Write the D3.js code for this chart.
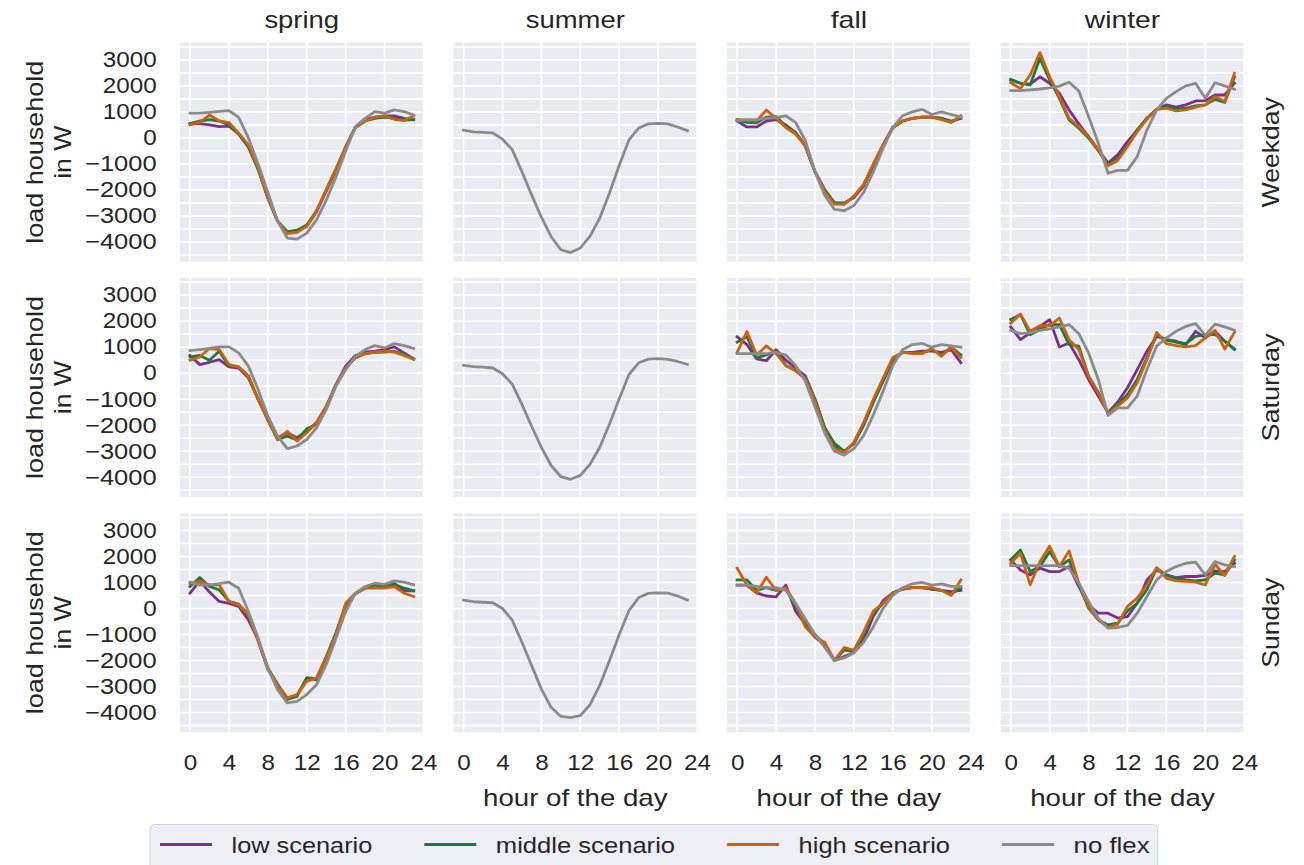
<!DOCTYPE html>
<html><head><meta charset="utf-8">
<script src="https://cdn.jsdelivr.net/npm/d3@7"></script>
<style>body{margin:0;background:#fff}svg{display:block}</style>
</head><body><svg id="chart" width="1304" height="865"></svg>
<script>
// ---------------- data ----------------
const hours = [0,1,2,3,4,5,6,7,8,9,10,11,12,13,14,15,16,17,18,19,20,21,22,23];
const seasons = ["spring","summer","fall","winter"];
const dayTypes = ["Weekday","Saturday","Sunday"];
const scenarioNames = ["low scenario","middle scenario","high scenario","no flex"];
const xTickValues = [0,4,8,12,16,20,24];
const yTickValues = [-4000,-3000,-2000,-1000,0,1000,2000,3000];

// each array: [Weekday, Saturday, Sunday]
const spring_low = [
 [550,550,500,430,450,150,-350,-1200,-2300,-3200,-3650,-3600,-3400,-2850,-2050,-1250,-350,400,700,800,850,850,750,700],
 [680,330,420,520,240,200,-180,-1000,-1800,-2480,-2290,-2480,-2230,-1900,-1300,-450,270,680,810,845,910,1010,780,550],
 [590,1060,630,270,200,80,-435,-1200,-2300,-2930,-3440,-3340,-2670,-2740,-1900,-950,140,560,810,910,845,970,680,680]];
const spring_mid = [
 [550,650,700,650,500,150,-350,-1200,-2300,-3200,-3600,-3550,-3350,-2800,-2000,-1200,-350,400,650,750,800,750,680,700],
 [630,680,500,845,270,240,-100,-1000,-1800,-2550,-2420,-2570,-2140,-1970,-1300,-450,200,600,750,800,810,845,715,550],
 [845,1190,845,715,270,170,-240,-1200,-2300,-2900,-3500,-3380,-2670,-2700,-1850,-950,80,580,780,910,845,930,780,680]];
const spring_high = [
 [500,600,880,650,590,180,-270,-1150,-2300,-3200,-3680,-3630,-3400,-2830,-2000,-1200,-350,400,650,790,845,715,665,845],
 [500,630,950,910,330,240,-115,-1010,-1780,-2550,-2230,-2610,-2290,-1900,-1270,-435,200,590,755,810,845,810,680,525],
 [970,1040,910,910,270,140,-240,-1270,-2350,-2930,-3440,-3310,-2800,-2670,-1900,-1010,200,590,780,780,780,845,590,460]];
const spring_noflex = [
 [950,950,980,1020,1050,790,0,-1000,-2100,-3200,-3850,-3890,-3660,-3150,-2400,-1500,-500,435,750,1010,950,1075,1010,880],
 [870,910,950,1010,1010,780,270,-630,-1650,-2420,-2900,-2800,-2550,-2100,-1400,-500,140,650,910,1060,970,1140,1060,950],
 [1010,910,910,960,1010,780,-115,-1140,-2290,-3120,-3630,-3570,-3310,-2930,-2160,-1140,-115,590,845,970,930,1060,1010,910]];

const summer_noflex = [
 [300,230,210,190,-50,-450,-1300,-2200,-3050,-3800,-4300,-4410,-4230,-3780,-3080,-2120,-1050,-80,380,540,560,540,420,280],
 [300,250,230,200,-20,-420,-1200,-2050,-2850,-3550,-3980,-4080,-3930,-3500,-2850,-1950,-980,-50,400,540,560,530,450,340],
 [320,260,240,220,0,-450,-1300,-2200,-3100,-3800,-4150,-4200,-4120,-3700,-2950,-2000,-1000,-80,420,580,600,590,480,330]];

const fall_low = [
 [650,420,420,650,700,500,200,-300,-1300,-2000,-2500,-2500,-2300,-1850,-1100,-300,400,650,750,800,800,750,650,750],
 [1400,1100,550,480,900,500,200,-100,-1000,-2100,-2800,-3000,-2700,-2000,-1100,-300,500,800,800,850,850,800,900,400],
 [900,900,600,480,450,900,-100,-600,-1100,-1400,-2000,-1850,-1700,-1200,-300,300,600,750,800,800,750,700,650,700]];
const fall_mid = [
 [700,600,580,800,820,450,200,-300,-1300,-2000,-2500,-2550,-2250,-1800,-1050,-300,400,650,750,800,800,750,600,800],
 [1200,1400,600,700,850,300,100,-200,-1000,-2100,-2700,-3000,-2700,-2000,-1100,-300,500,800,800,800,900,700,1000,700],
 [1100,1100,700,800,700,750,100,-500,-1000,-1400,-2000,-1600,-1650,-1000,-200,200,600,750,800,800,750,700,550,800]];
const fall_high = [
 [700,680,650,1070,750,400,150,-300,-1300,-2050,-2550,-2550,-2250,-1800,-1000,-250,400,650,750,800,800,700,600,850],
 [800,1600,700,1050,750,300,100,-200,-1100,-2200,-2900,-3050,-2650,-1900,-1000,-200,600,800,750,750,950,650,1000,600],
 [1550,900,600,1200,700,800,200,-700,-1100,-1300,-2000,-1500,-1600,-900,-100,200,600,750,800,800,800,700,500,1100]];
const fall_noflex = [
 [650,700,700,750,780,850,600,-100,-1300,-2200,-2750,-2800,-2600,-2100,-1300,-400,400,850,1000,1100,900,1000,900,800],
 [750,750,750,750,800,700,300,-300,-1300,-2300,-3000,-3150,-2900,-2400,-1600,-700,300,900,1100,1150,1000,1100,1050,1000],
 [900,900,850,800,800,700,200,-400,-1000,-1500,-2000,-1900,-1700,-1300,-700,0,500,800,950,1000,900,950,850,850]];

const winter_low = [
 [2230,2100,2070,2350,2100,1715,1075,540,50,-460,-970,-650,-140,300,755,1100,1270,1180,1270,1420,1430,1650,1650,2100],
 [1780,1290,1550,1800,2060,1010,1160,520,-240,-880,-1520,-1110,-560,140,845,1420,1290,1230,1100,1610,1360,1610,1230,910],
 [1870,1480,1290,1550,1420,1420,1610,845,140,-180,-180,-370,-310,200,1100,1480,1290,1190,1230,1230,1270,1450,1420,1740]];
const winter_mid = [
 [2250,2100,2035,3060,2230,1520,690,370,0,-490,-1040,-780,-270,300,755,1100,1200,1100,1140,1230,1270,1480,1360,2350],
 [2060,2250,1480,1680,1870,1870,1100,1040,-115,-730,-1520,-1200,-820,-240,590,1480,1270,1190,1140,1420,1480,1480,1230,930],
 [1870,2250,1420,1610,2190,1610,1870,910,15,-435,-630,-560,-90,200,720,1550,1270,1160,1100,1060,1100,1360,1290,1870]];
const winter_high = [
 [2120,1900,2420,3280,2350,1590,750,435,50,-460,-1075,-870,-330,240,720,1100,1140,1035,1075,1180,1270,1590,1400,2480],
 [1920,2280,1610,1830,1830,2120,1290,910,-115,-755,-1550,-1270,-950,-370,520,1570,1140,1060,1010,1060,1360,1650,930,1570],
 [1740,2120,910,1800,2400,1610,2210,970,80,-435,-730,-600,80,400,910,1570,1160,1060,1040,1010,910,1700,1270,2000]];
const winter_noflex = [
 [1820,1820,1850,1880,1920,1990,2140,1800,820,-200,-1360,-1250,-1250,-720,300,1075,1520,1780,2000,2100,1520,2120,2000,1870],
 [1650,1520,1550,1650,1700,1780,1870,1520,780,-240,-1620,-1330,-1330,-880,140,1040,1360,1610,1800,1910,1450,1890,1780,1650],
 [1650,1650,1650,1650,1650,1650,1550,970,270,-370,-755,-730,-650,-180,460,1100,1420,1610,1740,1780,1290,1800,1680,1610]];

// ---------------- styles / layout ----------------
const scenarioColors = ["#7b2f8e","#1d7b3a","#cc6210","#8b8b8b"];
const seriesBySeason = {
  spring: [spring_low, spring_mid, spring_high, spring_noflex],
  summer: [null, null, null, summer_noflex],
  fall:   [fall_low, fall_mid, fall_high, fall_noflex],
  winter: [winter_low, winter_mid, winter_high, winter_noflex]
};

const panelW = 243.5, panelH = 219;
const colX0 = 180, colStep = 273.57;
const rowY0 = 42.7, rowStep = 235.3;
const textColor = "#262626";
const bg = "#eaeaf2";
const lineW = 2.8;

const svg = d3.select("#chart");

// text helper: Helvetica-like glyphs laid out with DejaVu Sans widths
function styleText(sel, size) {
  sel.attr("font-size", size).attr("fill", textColor).attr("font-family", "DejaVu Sans");
  sel.each(function () {
    const w = this.getComputedTextLength();
    d3.select(this).attr("font-family", "Liberation Sans, Arial, sans-serif")
      .attr("textLength", w).attr("lengthAdjust", "spacingAndGlyphs");
  });
  return sel;
}

const x = d3.scaleLinear().domain([-1.03, 24]).range([0, panelW]);
const y = d3.scaleLinear().domain([-4760, 3660]).range([panelH, 0]);
const gridY = d3.range(-4500, 3501, 500);

const line = d3.line().x((d, i) => x(hours[i])).y(d => y(d));

seasons.forEach((season, c) => {
  dayTypes.forEach((day, r) => {
    const g = svg.append("g")
      .attr("transform", `translate(${colX0 + c * colStep},${rowY0 + r * rowStep})`);
    g.append("rect").attr("width", panelW).attr("height", panelH).attr("fill", bg);
    g.selectAll(".gy").data(gridY).join("line")
      .attr("x1", 0).attr("x2", panelW)
      .attr("y1", d => y(d)).attr("y2", d => y(d))
      .attr("stroke", "#fff").attr("stroke-width", 1.6);
    g.selectAll(".gx").data(xTickValues).join("line")
      .attr("x1", d => x(d)).attr("x2", d => x(d))
      .attr("y1", 0).attr("y2", panelH)
      .attr("stroke", "#fff").attr("stroke-width", 1.6);

    seriesBySeason[season].forEach((arr, s) => {
      if (!arr) return;
      g.append("path").datum(arr[r])
        .attr("d", line).attr("fill", "none")
        .attr("stroke", scenarioColors[s]).attr("stroke-width", lineW)
        .attr("stroke-linejoin", "round").attr("stroke-linecap", "square");
    });

    if (c === 0) {
      const ax = g.append("g").call(d3.axisLeft(y).tickValues(yTickValues)
        .tickFormat(d3.format("d")).tickSize(0).tickPadding(23.3));
      ax.select(".domain").remove();
      styleText(ax.selectAll("text"), 21.2);
      const cy = panelH / 2;
      const t1 = g.append("text").attr("text-anchor", "middle")
        .attr("transform", `translate(${42.5 - colX0},${cy}) rotate(-90)`).text("load household");
      const t2 = g.append("text").attr("text-anchor", "middle")
        .attr("transform", `translate(${70.7 - colX0},${cy}) rotate(-90)`).text("in W");
      styleText(t1, 24); styleText(t2, 24);
    }
    if (r === 2) {
      const ax = g.append("g").attr("transform", `translate(0,${panelH})`)
        .call(d3.axisBottom(x).tickValues(xTickValues).tickFormat(d3.format("d"))
          .tickSize(0).tickPadding(23));
      ax.select(".domain").remove();
      styleText(ax.selectAll("text"), 21.2);
      if (c > 0) {
        styleText(g.append("text").attr("text-anchor", "middle")
          .attr("x", panelW / 2).attr("y", 806.5 - (rowY0 + r * rowStep))
          .text("hour of the day"), 24);
      }
    }
    if (r === 0) {
      styleText(g.append("text").attr("text-anchor", "middle")
        .attr("x", panelW / 2).attr("y", 28 - rowY0).text(season), 24);
    }
    if (c === 3) {
      styleText(g.append("text").attr("text-anchor", "middle")
        .attr("transform", `translate(${1278.5 - (colX0 + c * colStep)},${panelH / 2}) rotate(-90)`)
        .text(day), 24);
    }
  });
});

// ---------------- legend ----------------
const leg = svg.append("g");
const legBox = leg.append("rect").attr("x", 150).attr("y", 824.5).attr("height", 70)
  .attr("rx", 5).attr("fill", "#eeeef5").attr("stroke", "#d2d2d6").attr("stroke-width", 1);
let lx = 160;
const handleLen = 52, handleGap = 19.5, entryGap = 52, legY = 844.5;
scenarioNames.forEach((name, i) => {
  leg.append("line").attr("x1", lx).attr("x2", lx + handleLen)
    .attr("y1", legY).attr("y2", legY)
    .attr("stroke", scenarioColors[i]).attr("stroke-width", lineW);
  const t = leg.append("text").attr("x", lx + handleLen + handleGap).attr("y", 852.5).text(name);
  styleText(t, 22.5);
  const w = +t.attr("textLength");
  lx = lx + handleLen + handleGap + w + entryGap;
  if (i === scenarioNames.length - 1) legBox.attr("width", lx - entryGap + 8 - 150);
});
</script>
</body></html>
